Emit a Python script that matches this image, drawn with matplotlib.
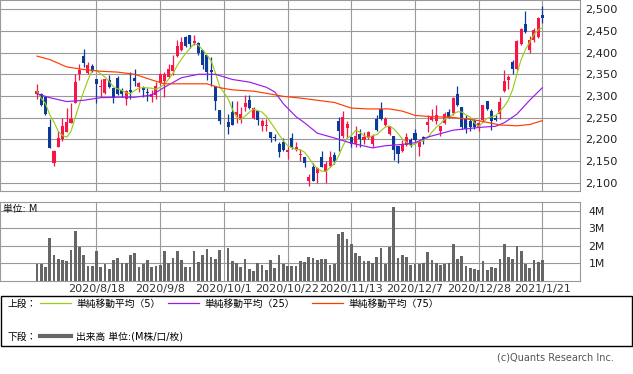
import numpy as np
import matplotlib
matplotlib.use('Agg')
import matplotlib.pyplot as plt
import pandas as pd
from matplotlib.patches import Rectangle
from matplotlib.lines import Line2D

plt.rcParams['font.family'] = ['DejaVu Sans', 'Noto Sans CJK JP']

nan = np.nan

# ---------------- data ----------------
date_labels = ['2020/8/18', '2020/9/8', '2020/10/1', '2020/10/22',
               '2020/11/13', '2020/12/7', '2020/12/28', '2021/1/21']
date_pos = [14, 29, 44, 59, 74, 89, 104, 119]

opens = [2305, 2305, 2297, 2229, 2146, 2181, 2200, 2217, 2238, 2283,
         2350, 2392, 2353, 2368, 2338, 2320, 2307, 2336, 2319, 2341,
         2313, 2292, 2314, 2342, 2320, 2319, 2309, 2297, 2303, 2330,
         2334, 2344, 2358, 2392, 2406, 2437, 2440, 2423, 2423, 2406,
         2394, 2361, 2324, 2268, nan, 2239, 2262, 2255, 2245, 2274,
         2291, 2249, 2265, 2231, 2231, 2216, 2206, 2190, 2193, 2171,
         2202, 2176, 2163, 2158, 2104, 2137, 2121, 2158, 2127, 2139,
         2164, 2242, 2208, 2225, 2206, 2189, 2212, 2198, 2204, 2190,
         2247, 2270, 2234, 2211, 2208, 2185, 2172, 2187, 2198, 2214,
         2181, 2206, 2234, 2245, 2243, 2218, 2237, 2262, 2260, 2305,
         2274, 2247, 2242, 2242, 2228, 2245, 2289, 2266, 2249, 2258,
         2311, 2336, 2378, 2363, 2421, 2467, 2406, 2428, 2437, 2487]

highs = [2327, 2306, 2301, 2247, 2175, 2218, 2248, 2272, 2283, 2350,
         2374, 2408, 2378, 2373, 2338, 2340, 2340, 2348, 2319, 2345,
         2319, 2314, 2355, 2363, 2332, 2322, 2319, 2314, 2332, 2352,
         2355, 2374, 2394, 2430, 2437, 2438, 2440, 2440, 2425, 2406,
         2394, 2390, 2324, 2268, nan, 2258, 2289, 2289, 2274, 2303,
         2302, 2274, 2265, 2247, 2247, 2216, 2212, 2193, 2203, 2181,
         2214, 2193, 2177, 2158, 2119, 2146, 2137, 2173, 2150, 2173,
         2170, 2251, 2265, 2241, 2206, 2231, 2224, 2216, 2220, 2212,
         2255, 2285, 2251, 2231, 2208, 2185, 2198, 2214, 2204, 2224,
         2193, 2208, 2255, 2270, 2278, 2231, 2262, 2270, 2297, 2324,
         2274, 2255, 2247, 2247, 2239, 2280, 2289, 2270, 2255, 2297,
         2359, 2348, 2382, 2430, 2456, 2495, 2438, 2456, 2482, 2508]

lows = [2293, 2276, 2257, 2179, 2139, 2181, 2197, 2216, 2238, 2283,
        2336, 2367, 2350, 2355, 2283, 2297, 2305, 2319, 2284, 2303,
        2297, 2279, 2293, 2324, 2309, 2297, 2289, 2286, 2293, 2325,
        2297, 2342, 2348, 2390, 2404, 2413, 2410, 2417, 2394, 2363,
        2336, 2324, 2268, 2235, nan, 2212, 2234, 2237, 2237, 2265,
        2270, 2247, 2234, 2220, 2218, 2193, 2195, 2158, 2173, 2154,
        2177, 2173, 2150, 2137, 2092, 2104, 2100, 2135, 2100, 2137,
        2142, 2173, 2204, 2204, 2181, 2181, 2181, 2189, 2200, 2181,
        2218, 2245, 2231, 2210, 2152, 2144, 2170, 2184, 2181, 2196,
        2162, 2190, 2216, 2241, 2236, 2208, 2235, 2249, 2255, 2276,
        2224, 2214, 2218, 2224, 2218, 2239, 2268, 2222, 2242, 2247,
        2309, 2317, 2350, 2359, 2417, 2446, 2398, 2425, 2433, 2469]

closes = [2311, 2278, 2258, 2179, 2173, 2202, 2231, 2239, 2246, 2332,
          2359, 2376, 2371, 2358, 2327, 2324, 2338, 2320, 2295, 2305,
          2305, 2311, 2309, 2334, 2330, 2313, 2307, 2305, 2324, 2350,
          2351, 2363, 2371, 2415, 2425, 2415, 2421, 2427, 2398, 2371,
          2355, 2355, 2288, 2242, nan, 2228, 2234, 2264, 2258, 2283,
          2272, 2272, 2245, 2241, 2234, 2204, 2202, 2170, 2175, 2175,
          2181, 2181, 2167, 2146, 2113, 2104, 2134, 2135, 2142, 2158,
          2150, 2218, 2251, 2235, 2189, 2208, 2201, 2206, 2217, 2208,
          2221, 2247, 2247, 2230, 2175, 2166, 2189, 2206, 2187, 2198,
          2193, 2200, 2239, 2252, 2255, 2231, 2258, 2252, 2296, 2280,
          2229, 2224, 2228, 2229, 2237, 2278, 2270, 2243, 2245, 2287,
          2334, 2344, 2363, 2426, 2454, 2448, 2429, 2452, 2479, 2479]

volumes_m = [0.96, 0.96, 0.81, 2.47, 1.47, 1.25, 1.19, 1.13, 1.76, 2.86,
             1.95, 1.47, 0.86, 0.86, 1.70, 0.81, 0.98, 0.67, 1.19, 1.32,
             1.00, 1.00, 1.47, 1.59, 0.79, 0.96, 1.19, 0.81, 0.86, 0.90,
             1.70, 1.00, 1.32, 1.70, 1.19, 0.81, 0.81, 1.70, 1.09, 1.47,
             1.81, 1.38, 1.25, 1.76, nan, 1.89, 1.13, 1.00, 0.81, 1.25,
             0.67, 0.56, 1.05, 0.90, 0.62, 1.19, 0.75, 1.47, 0.96, 0.86,
             0.86, 0.86, 1.13, 1.09, 1.36, 1.32, 1.21, 1.25, 1.25, 0.90,
             0.98, 2.67, 2.79, 2.39, 2.10, 1.59, 1.42, 1.13, 1.13, 1.00,
             1.36, 1.89, 0.96, 1.95, 4.22, 1.32, 1.47, 1.36, 0.90, 0.98,
             0.98, 1.05, 1.64, 1.19, 1.01, 0.90, 0.98, 1.00, 2.14, 1.25,
             1.40, 0.84, 0.75, 0.67, 0.62, 1.13, 0.62, 0.79, 0.73, 1.25,
             2.10, 1.36, 1.25, 1.99, 1.70, 0.98, 0.73, 1.19, 1.07, 1.19]

ma25_idx = [0, 3, 7, 11, 15, 19, 23, 27, 30, 34, 38, 42, 46, 50, 54, 56, 58,
            61, 63, 66, 70, 74, 79, 82, 86, 89, 92, 95, 98, 102, 105, 108,
            110, 113, 116, 119]
ma25_val = [2305, 2296, 2287, 2290, 2296, 2297, 2297, 2302, 2320, 2342, 2350,
            2350, 2338, 2332, 2320, 2309, 2282, 2252, 2238, 2214, 2203, 2191,
            2180, 2185, 2188, 2192, 2205, 2213, 2221, 2225, 2228, 2230, 2238,
            2258, 2290, 2319]

ma75_idx = [0, 3, 7, 11, 15, 19, 23, 27, 30, 35, 40, 43, 46, 51, 54, 58, 62,
            66, 70, 74, 78, 83, 86, 89, 93, 97, 101, 104, 109, 113, 116, 119]
ma75_val = [2392, 2384, 2367, 2361, 2357, 2355, 2350, 2337, 2328, 2328, 2328,
            2319, 2314, 2311, 2306, 2299, 2295, 2290, 2285, 2272, 2270, 2270,
            2265, 2255, 2252, 2251, 2247, 2243, 2233, 2231, 2234, 2243]

# ---------------- figure ----------------
W, H = 633, 374
fig = plt.figure(figsize=(W / 100, H / 100), dpi=100)


def rect(l, t, r, b):
    return [l / W, 1 - b / H, (r - l) / W, (b - t) / H]


UP = '#fa1448'
DN = '#0b3a9a'
GRID = '#999999'
C5, C25, C75 = '#9acd1a', '#9a1af0', '#ff3c00'
LW_GRID = 0.8
LW_MA = 0.85

ax = fig.add_axes(rect(0, 0, 580, 191))
axv = fig.add_axes(rect(0, 202, 580, 281))

o = np.array(opens, float)
h = np.array(highs, float)
l = np.array(lows, float)
c = np.array(closes, float)
x = np.arange(len(c))
valid = ~np.isnan(c)
up = valid & (c >= o)
dn = valid & (c < o)

body_lo = np.minimum(o, c)
body_h = np.maximum(np.abs(c - o), 1.5)

for mask, col in ((up, UP), (dn, DN)):
    ax.vlines(x[mask], l[mask], h[mask], color=col, lw=0.9, zorder=3)
    ax.bar(x[mask], body_h[mask], bottom=body_lo[mask], width=0.72,
           color=col, linewidth=0, zorder=3)

ser = pd.Series(c)[valid]
ma5 = ser.rolling(5, min_periods=1).mean()
ax.plot(ma5.index, ma5.values, color=C5, lw=LW_MA, zorder=4)
ax.plot(ma25_idx, ma25_val, color=C25, lw=LW_MA, zorder=4)
ax.plot(ma75_idx, ma75_val, color=C75, lw=LW_MA, zorder=4)

xlim = (-37 / 4.247, (580 - 37) / 4.247)
ax.set_xlim(*xlim)
ax.set_ylim(2080.5, 2521.5)
ax.set_yticks(range(2100, 2501, 50))
ax.set_yticklabels([f'{v:,}' for v in range(2100, 2501, 50)])
ax.set_xticks(date_pos)
ax.tick_params(axis='x', labelbottom=False, length=0)
ax.yaxis.tick_right()
ax.tick_params(axis='y', length=0, pad=4, labelsize=8.2, labelcolor='#222222')
ax.grid(True, color=GRID, lw=LW_GRID)
ax.set_axisbelow(True)
for s in ax.spines.values():
    s.set_color(GRID)
    s.set_linewidth(LW_GRID)

# volume
v = np.array(volumes_m, float)
vv = ~np.isnan(v)
axv.bar(x[vv], v[vv], width=0.64, color='#666666', linewidth=0, zorder=3)
axv.set_xlim(*xlim)
axv.set_ylim(0, 4.51)
axv.set_yticks([1, 2, 3, 4])
axv.set_yticklabels(['1M', '2M', '3M', '4M'])
axv.yaxis.tick_right()
axv.set_xticks(date_pos)
axv.set_xticklabels(date_labels)
axv.tick_params(axis='x', length=0, pad=2, labelsize=8, labelcolor='#333333')
axv.tick_params(axis='y', length=0, pad=6, labelsize=7.8, labelcolor='#222222')
axv.grid(True, color=GRID, lw=LW_GRID)
axv.set_axisbelow(True)
for s in axv.spines.values():
    s.set_color(GRID)
    s.set_linewidth(LW_GRID)

# overlay for texts / legend
ov = fig.add_axes([0, 0, 1, 1], zorder=10)
ov.set_xlim(0, W)
ov.set_ylim(H, 0)
ov.axis('off')

ov.text(3, 209, '単位: M', fontsize=7, va='center', ha='left', color='#111111')

ov.add_patch(Rectangle((0.5, 295.5), 631.5, 50.5, fill=False,
                       edgecolor='black', lw=1.0))
ov.text(8, 303.5, '上段：', fontsize=7, va='center', ha='left')
ov.text(8, 336.5, '下段：', fontsize=7, va='center', ha='left')
items = [(40, C5, '単純移動平均（5）'),
         (168, C25, '単純移動平均（25）'),
         (312, C75, '単純移動平均（75）')]
for x0, col, lab in items:
    ov.add_line(Line2D([x0, x0 + 31], [303, 303], color=col, lw=0.9))
    ov.text(x0 + 36, 303.5, lab, fontsize=7, va='center', ha='left')
ov.add_line(Line2D([40, 71], [336, 336], color='#666666', lw=3.0))
ov.text(76, 336.5, '出来高 単位:(M株/口/枚)', fontsize=7, va='center', ha='left')

ov.text(614, 358, '(c)Quants Research Inc.', fontsize=7, va='center',
        ha='right', color='#555555')

fig.savefig('out.png', dpi=100)
